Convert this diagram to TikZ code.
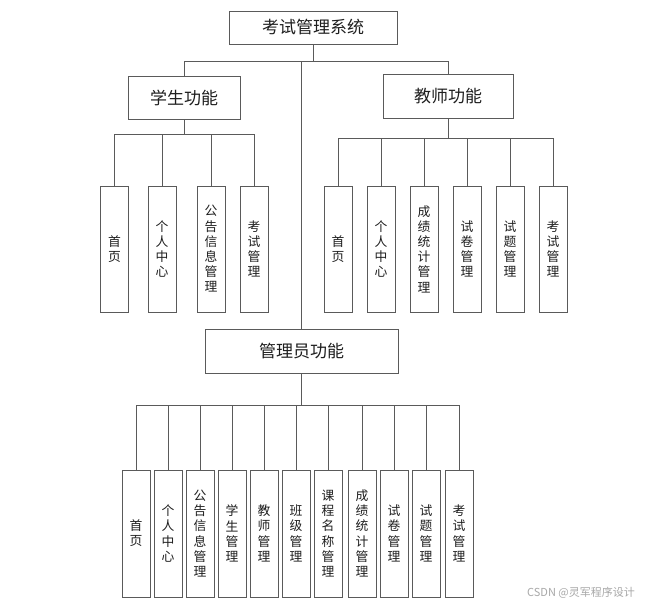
\documentclass[tikz,border=0pt]{standalone}
\usepackage{fontspec}
\setmainfont{Noto Sans CJK SC}
\definecolor{linec}{HTML}{5A5A5A}
\definecolor{textc}{HTML}{1E1E1E}
\definecolor{wmc}{HTML}{A8A8A8}
\begin{document}
\begin{tikzpicture}[x=1pt,y=-1pt,
  box/.style={draw=linec,line width=1pt,inner sep=0pt,text=textc,align=center},
  headbox/.style={box,font=\fontsize{17}{19}\selectfont},
  leaf/.style={box,minimum width=28pt,font=\fontsize{12.8}{15.2}\selectfont},
  conn/.style={draw=linec,line width=1pt}]
\useasboundingbox (0,0) rectangle (650,605);
\fill[white] (0,0) rectangle (650,605);
% head nodes
\node[headbox,minimum width=168pt,minimum height=33pt] (top) at (313,27.5) {考试管理系统};
\node[headbox,minimum width=112pt,minimum height=43pt] (stu) at (184,97.5) {学生功能};
\node[headbox,minimum width=130pt,minimum height=44pt] (tea) at (448,96) {教师功能};
\node[headbox,minimum width=193pt,minimum height=44pt] (adm) at (301.5,351) {管理员功能};
% student leaves
\foreach \n/\x/\t in {1/114.5/首\\页,2/162/个\\人\\中\\心,3/211/公\\告\\信\\息\\管\\理,4/254/考\\试\\管\\理}
  \node[leaf,minimum height=126pt] (s\n) at (\x,249) {\t};
% teacher leaves
\foreach \n/\x/\t in {1/338/首\\页,2/381/个\\人\\中\\心,3/424/成\\绩\\统\\计\\管\\理,4/467/试\\卷\\管\\理,5/510/试\\题\\管\\理,6/553/考\\试\\管\\理}
  \node[leaf,minimum height=126pt] (t\n) at (\x,249) {\t};
% admin leaves
\foreach \n/\x/\t in {1/136/首\\页,2/168/个\\人\\中\\心,3/200/公\\告\\信\\息\\管\\理,4/232/学\\生\\管\\理,5/264/教\\师\\管\\理,6/296/班\\级\\管\\理,7/328/课\\程\\名\\称\\管\\理,8/362/成\\绩\\统\\计\\管\\理,9/394/试\\卷\\管\\理,10/426/试\\题\\管\\理,11/459/考\\试\\管\\理}
  \node[leaf,minimum height=127pt] (a\n) at (\x,533.5) {\t};
% bus coordinates
\coordinate (b0) at (313,61);
\coordinate (bs) at (184,134);
\coordinate (bt) at (448,138);
\coordinate (ba) at (301.5,405);
% connectors
\draw[conn] (top.south) -- (b0);
\draw[conn] (stu.north) |- (b0);
\draw[conn] (tea.north) |- (b0);
\draw[conn] (adm.north) -- (adm.north |- b0);
\draw[conn] (stu.south) -- (bs);
\foreach \n in {1,...,4} \draw[conn] (s\n.north) |- (bs);
\draw[conn] (tea.south) -- (bt);
\foreach \n in {1,...,6} \draw[conn] (t\n.north) |- (bt);
\draw[conn] (adm.south) -- (ba);
\foreach \n in {1,...,11} \draw[conn] (a\n.north) |- (ba);
% watermark
\node[text=wmc,font=\fontsize{11}{13}\selectfont,inner sep=0pt] (wm) at (581,593) {CSDN @灵军程序设计};
\end{tikzpicture}
\end{document}
